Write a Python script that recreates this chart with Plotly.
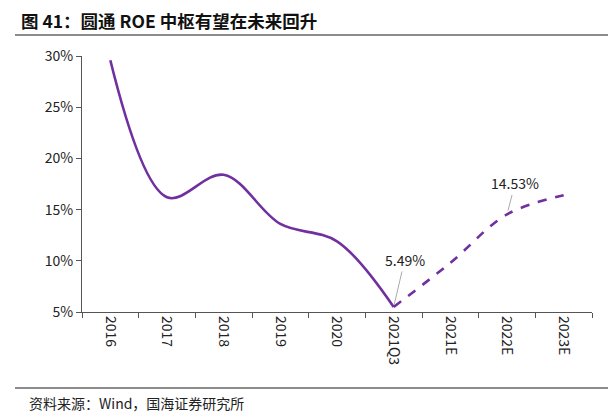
import plotly.graph_objects as go

categories = ["2016", "2017", "2018", "2019", "2020", "2021Q3", "2021E", "2022E", "2023E"]
roe_actual = [29.58, 16.2, 18.4, 13.6, 11.9, 5.49]
roe_forecast = [5.49, 9.8, 14.53, 16.4]
y_ticks = [5, 10, 15, 20, 25, 30]
y_tick_labels = ["5%", "10%", "15%", "20%", "25%", "30%"]

color = "#7030A0"
font_fam = "Noto Sans CJK SC"

fig = go.Figure()
fig.add_trace(go.Scatter(
    x=categories[:6], y=roe_actual, mode="lines",
    line=dict(color=color, width=2.6, shape="spline", smoothing=1.0),
    hoverinfo="skip", showlegend=False))
fig.add_trace(go.Scatter(
    x=categories[5:], y=roe_forecast, mode="lines",
    line=dict(color=color, width=2.6, shape="spline", smoothing=1.0, dash="dash"),
    hoverinfo="skip", showlegend=False))

OFF = 8  # page body margin
W, H = 616 - OFF, 417 - OFF
L, R, T, B = 82 - OFF, 24, 56 - OFF, 105
pw, ph = W - L - R, H - T - B

def px(x):
    return (x - OFF - L) / pw

def py(y):
    return (H - B - (y - OFF)) / ph

fig.update_layout(
    width=W, height=H,
    margin=dict(l=L, r=R, t=T, b=B),
    paper_bgcolor="white", plot_bgcolor="white",
    font=dict(family=font_fam, size=13, color="#222222"),
    xaxis=dict(
        type="category", categoryorder="array", categoryarray=categories,
        range=[-0.5, len(categories) - 0.5],
        tickangle=90, ticks="outside", tickson="boundaries", ticklen=5,
        tickcolor="#555555", showline=True, linecolor="#555555", linewidth=1.2,
        showgrid=False, zeroline=False, tickfont=dict(size=14, family=font_fam),
    ),
    yaxis=dict(
        range=[5, 30], tickvals=y_ticks, ticktext=y_tick_labels,
        ticks="outside", ticklen=5, tickcolor="#555555",
        showline=True, linecolor="#555555", linewidth=1.2,
        showgrid=False, zeroline=False, tickfont=dict(size=14, family=font_fam),
    ),
)

# separator lines
fig.add_shape(type="line", xref="paper", yref="paper",
              x0=px(15), x1=px(640), y0=py(35), y1=py(35),
              line=dict(color="#8c8c8c", width=2))
fig.add_shape(type="line", xref="paper", yref="paper",
              x0=px(15), x1=px(640), y0=py(388), y1=py(388),
              line=dict(color="#8c8c8c", width=2))

fig.add_annotation(xref="paper", yref="paper", x=px(19), y=py(20),
                   xanchor="left", yanchor="middle", showarrow=False,
                   text="<b>图 41：圆通 ROE 中枢有望在未来回升</b>",
                   font=dict(family=font_fam, size=17.5, color="#111111"))
fig.add_annotation(xref="paper", yref="paper", x=px(27), y=py(403),
                   xanchor="left", yanchor="middle", showarrow=False,
                   text="资料来源：Wind，国海证券研究所",
                   font=dict(family=font_fam, size=14, color="#222222"))

# data labels
fig.add_annotation(x=categories[0], y=roe_actual[0], xref="x", yref="y",
                   text="29.58%", showarrow=False, xanchor="left", yanchor="middle",
                   xshift=12, yshift=-3, font=dict(size=14, family=font_fam, color="#222222"))
fig.add_annotation(x=categories[5], y=roe_actual[5], xref="x", yref="y",
                   text="5.49%", showarrow=True, arrowhead=0, arrowwidth=1,
                   arrowcolor="#aaaaaa", ax=11, ay=-47, standoff=2,
                   font=dict(size=14, family=font_fam, color="#222222"))
fig.add_annotation(x=categories[7], y=roe_forecast[2], xref="x", yref="y",
                   text="14.53%", showarrow=True, arrowhead=0, arrowwidth=1,
                   arrowcolor="#aaaaaa", ax=8, ay=-31, standoff=4,
                   font=dict(size=14, family=font_fam, color="#222222"))

fig.write_html("out.html")
